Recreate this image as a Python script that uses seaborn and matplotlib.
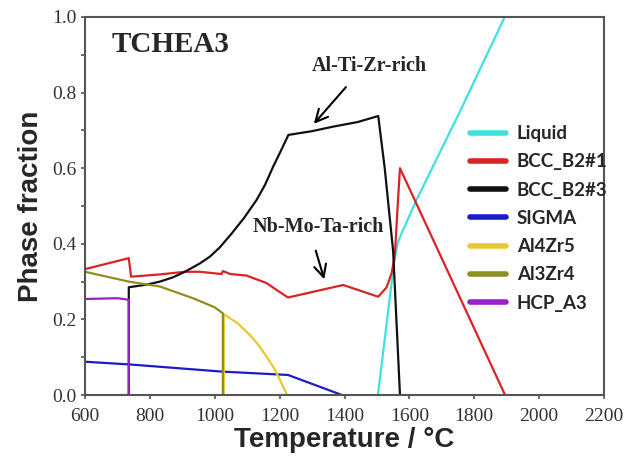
import numpy as np
import pandas as pd
import matplotlib
matplotlib.use("Agg")
import matplotlib.pyplot as plt
from matplotlib.ticker import MultipleLocator
import seaborn as sns

# fases e cores (ordem da legenda)
phases = ["Liquid", "BCC_B2#1", "BCC_B2#3", "SIGMA", "Al4Zr5", "Al3Zr4", "HCP_A3"]
colors = ["#40e0e0", "#d82424", "#111111", "#1c1cc8", "#e8c830", "#8f8f20", "#9a20c8"]

# curvas (T em °C, fração de fase)
liquid_T = [1503, 1530, 1555, 1565, 1576, 1622, 1756, 1894, 1900]
liquid_f = [0.0, 0.19, 0.366, 0.405, 0.428, 0.516, 0.75, 1.0, 1.01]

bcc1_T = [600, 735, 742, 831, 908, 954, 1021, 1025, 1048, 1098, 1160, 1201, 1226,
          1396, 1504, 1530, 1545, 1555, 1565, 1571, 1895]
bcc1_f = [0.333, 0.362, 0.313, 0.319, 0.326, 0.326, 0.320, 0.328, 0.320, 0.316,
          0.296, 0.272, 0.258, 0.291, 0.260, 0.285, 0.322, 0.366, 0.516, 0.600, 0.0]

bcc3_T = [735, 735, 790, 831, 870, 908, 954, 985, 1015, 1050, 1090, 1129, 1155, 1180,
          1205, 1227, 1300, 1365, 1440, 1504, 1524, 1550, 1571]
bcc3_f = [0.0, 0.285, 0.292, 0.300, 0.311, 0.326, 0.348, 0.366, 0.390, 0.425, 0.468,
          0.516, 0.556, 0.604, 0.648, 0.688, 0.698, 0.710, 0.722, 0.738, 0.600, 0.380, 0.0]

sigma_T = [600, 735, 1021, 1226, 1392]
sigma_f = [0.088, 0.081, 0.062, 0.053, 0.0]

al4zr5_T = [1028, 1028, 1070, 1108, 1135, 1160, 1182, 1201, 1223]
al4zr5_f = [0.0, 0.214, 0.190, 0.159, 0.132, 0.101, 0.072, 0.040, 0.0]

al3zr4_T = [600, 735, 831, 933, 1000, 1025, 1025]
al3zr4_f = [0.326, 0.300, 0.287, 0.256, 0.232, 0.216, 0.0]

hcp_T = [600, 700, 735, 735]
hcp_f = [0.254, 0.256, 0.252, 0.0]

curves = [(liquid_T, liquid_f), (bcc1_T, bcc1_f), (bcc3_T, bcc3_f), (sigma_T, sigma_f),
          (al4zr5_T, al4zr5_f), (al3zr4_T, al3zr4_f), (hcp_T, hcp_f)]

frames = []
for name, (t, f) in zip(phases, curves):
    frames.append(pd.DataFrame({"T": t, "f": f, "phase": name}))
df = pd.concat(frames, ignore_index=True)

sns.set_theme(style="ticks")
plt.rcParams["font.family"] = ["Liberation Serif", "DejaVu Sans"]

fig = plt.figure(figsize=(6.27, 4.61), dpi=100)
ax = fig.add_axes([85 / 627, 66 / 461, 519 / 627, 378 / 461])

sns.lineplot(data=df, x="T", y="f", hue="phase", hue_order=phases, palette=colors,
             sort=False, estimator=None, units="phase", linewidth=1.6, ax=ax, legend=False)

ax.set_xlim(600, 2200)
ax.set_ylim(0, 1.0)
ax.xaxis.set_major_locator(MultipleLocator(200))
ax.yaxis.set_major_locator(MultipleLocator(0.2))
ax.yaxis.set_minor_locator(MultipleLocator(0.1))
ax.yaxis.set_major_formatter(plt.FormatStrFormatter("%.1f"))
ax.tick_params(axis="both", which="both", direction="out", length=3, width=1.2,
               color="#555555", labelsize=14, labelcolor="#333333", pad=3)
ax.tick_params(axis="x", pad=6)

for s in ax.spines.values():
    s.set_color("#555555")
    s.set_linewidth(1.5)

lab_font = dict(family=["Liberation Sans", "DejaVu Sans"], weight="bold", size=20)
ax.set_xlabel("Temperature / °C", labelpad=2, **lab_font)
ax.set_ylabel("Phase fraction", labelpad=6, **lab_font)

# textos e setas
ax.text(683, 0.926, "TCHEA3", ha="left", va="center", fontsize=21, fontweight="bold")
ax.text(1477, 0.870, "Al-Ti-Zr-rich", ha="center", va="center", fontsize=14.5, fontweight="bold")
ax.text(1318, 0.444, "Nb-Mo-Ta-rich", ha="center", va="center", fontsize=14.5, fontweight="bold")
ax.annotate("", xy=(1300, 0.712), xytext=(1410, 0.820),
            arrowprops=dict(arrowstyle="->", lw=1.5, color="black", mutation_scale=22))
ax.annotate("", xy=(1340, 0.299), xytext=(1309, 0.389),
            arrowprops=dict(arrowstyle="->", lw=1.5, color="black", mutation_scale=22))

# legenda
handles = [plt.Line2D([], [], color=c, lw=4) for c in colors]
ax.legend(handles, phases, loc="upper left", bbox_to_anchor=(0.742, 0.714), frameon=False,
          borderaxespad=0, borderpad=0, handlelength=1.9, handletextpad=0.6, labelspacing=0.6,
          prop=dict(family=["Lato", "DejaVu Sans"], weight="bold", size=13.5))

fig.savefig("out.png", dpi=100)
